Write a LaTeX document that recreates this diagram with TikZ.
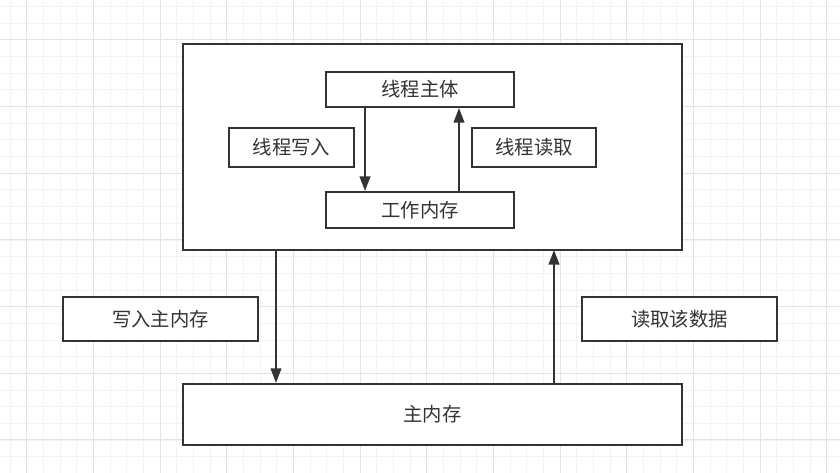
\documentclass[tikz,border=0pt]{standalone}
\usepackage{fontspec}
\setmainfont{Noto Sans CJK SC}
\usetikzlibrary{arrows.meta}
\definecolor{ink}{HTML}{333333}
\definecolor{gridminor}{HTML}{F3F3F3}
\definecolor{gridmajor}{HTML}{E4E4E4}
\begin{document}
\begin{tikzpicture}[x=0.75pt,y=-0.75pt,
  box/.style={draw=ink,line width=1.5pt,fill=white,inner sep=0pt,text=ink,font=\fontsize{14.5}{16}\selectfont},
  conn/.style={draw=ink,line width=1.5pt,-{Triangle[length=11pt,width=8pt]}}]
\fill[white] (0,0) rectangle (840,473);
\useasboundingbox (0,0) rectangle (840,473);
% grid
\foreach \i in {0,...,50} {
  \draw[gridminor,line width=0.75pt] ({10+16.667*\i},0) -- ({10+16.667*\i},473);
}
\foreach \i in {0,...,28} {
  \draw[gridminor,line width=0.75pt] (0,{6.667+16.667*\i}) -- (840,{6.667+16.667*\i});
}
\foreach \i in {0,...,12} {
  \draw[gridmajor,line width=0.75pt] ({26.667+66.667*\i},0) -- ({26.667+66.667*\i},473);
}
\foreach \i in {0,...,7} {
  \draw[gridmajor,line width=0.75pt] (0,{40+66.667*\i}) -- (840,{40+66.667*\i});
}
% boxes
\draw[draw=ink,line width=1.5pt,fill=white] (183,44) rectangle (682,250);
\coordinate (outerA) at (276,250);
\coordinate (outerB) at (554,250);
\node[box,minimum width=188*0.75pt,minimum height=35*0.75pt] (body) at (420,89.5) {线程主体};
\node[box,minimum width=188*0.75pt,minimum height=36*0.75pt] (work) at (420,210) {工作内存};
\node[box,minimum width=125*0.75pt,minimum height=39*0.75pt] (wr) at (291.5,147.5) {线程写入};
\node[box,minimum width=124*0.75pt,minimum height=39*0.75pt] (rd) at (534,147.5) {线程读取};
\node[box,minimum width=195*0.75pt,minimum height=44*0.75pt] (wmain) at (160.5,319) {写入主内存};
\node[box,minimum width=195*0.75pt,minimum height=44*0.75pt] (rdata) at (679.5,319) {读取该数据};
\node[box,minimum width=499*0.75pt,minimum height=61*0.75pt] (main) at (432.5,414.5) {主内存};
% connectors
\draw[conn] (body.south -| 365,0) -- (work.north -| 365,0);
\draw[conn] (work.north -| 459,0) -- (body.south -| 459,0);
\draw[conn] (outerA) -- (main.north -| outerA);
\draw[conn] (main.north -| outerB) -- (outerB);
\end{tikzpicture}
\end{document}
